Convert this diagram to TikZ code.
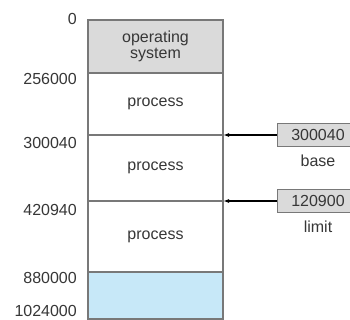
\documentclass[tikz,border=0pt]{standalone}
\usepackage{fontspec}
\setmainfont{Liberation Sans}
\usepackage{xcolor}
\usetikzlibrary{arrows.meta, positioning}
\definecolor{osgray}{RGB}{218,218,218}
\definecolor{holeblue}{RGB}{199,232,248}
\definecolor{edgegray}{RGB}{120,120,120}
\definecolor{txtgray}{RGB}{55,55,55}
\tikzset{
	membox/.style={draw=edgegray, line width=1.1pt, minimum width=135pt, minimum height=#1, inner sep=0pt, outer sep=0pt, text=txtgray, font=\fontsize{16}{16}\selectfont, align=center},
	regbox/.style={draw=edgegray, line width=1pt, fill=osgray, minimum width=82pt, minimum height=23pt, inner sep=0pt, text=txtgray, font=\fontsize{16}{16}\selectfont},
	addrlbl/.style={anchor=east, inner sep=0pt, text=txtgray, font=\fontsize{16}{16}\selectfont},
	reglbl/.style={inner sep=3pt, text=txtgray, font=\fontsize{16}{16}\selectfont},
	ptrarr/.style={-{Latex[length=6pt, width=4pt]}, line width=1.4pt, black},
}

\begin{document}
\begin{tikzpicture}[x=1pt, y=-1pt]
	\clip (0,0) rectangle (350,320);
	\fill[white] (0,0) rectangle (350,320);
	% memory
	\node[membox=53pt, fill=osgray] (os) at (155.5,46.5) {operating\\system};
	\node[membox=62pt, below=0pt of os] (p1) {process};
	\node[membox=66pt, below=0pt of p1] (p2) {process};
	\node[membox=71pt, below=0pt of p2] (p3) {process};
	\node[membox=47pt, fill=holeblue, below=0pt of p3] (hole) {};
	% addresses
	\node[addrlbl] (a0) at (77,19) {0};
	\node[addrlbl] (a1) at (77,79) {256000};
	\node[addrlbl] (a2) at (77,143) {300040};
	\node[addrlbl] (a3) at (77,210) {420940};
	\node[addrlbl] (a4) at (77,278) {880000};
	\node[addrlbl] (a5) at (77,311) {1024000};
	% registers
	\node[regbox] (basereg) at (318,135) {300040};
	\node[reglbl, below=5pt of basereg] (basename) {base};
	\node[regbox] (limitreg) at (318,201) {120900};
	\node[reglbl, below=5pt of limitreg] (limitname) {limit};
	\draw[ptrarr] (basereg.west) -- (p1.south east);
	\draw[ptrarr] (limitreg.west) -- (p2.south east);
\end{tikzpicture}
\end{document}
